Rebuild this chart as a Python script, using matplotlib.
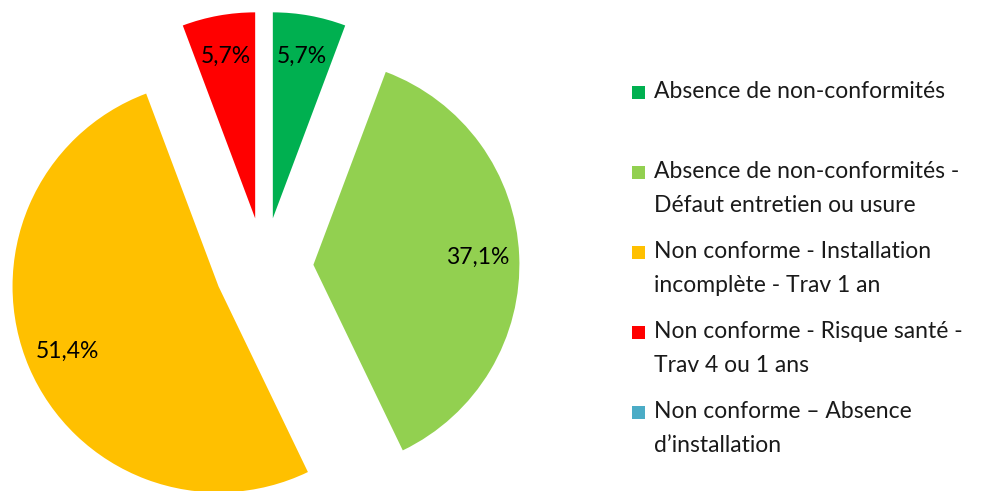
import matplotlib
matplotlib.use('Agg')
import matplotlib.pyplot as plt
from matplotlib.patches import Rectangle

# Data (counts, out of 35)
categories = [
    "Absence de non-conformités",
    "Absence de non-conformités -\nDéfaut entretien ou usure",
    "Non conforme - Installation\nincomplète - Trav 1 an",
    "Non conforme - Risque santé -\nTrav 4 ou 1 ans",
    "Non conforme – Absence\nd’installation",
]
counts = [2, 13, 18, 2, 0]
colors = ['#00B050', '#92D050', '#FFC000', '#FF0000', '#4BACC6']

plt.rcParams['font.family'] = ['Lato', 'DejaVu Sans']

W, H = 985, 491
fig = plt.figure(figsize=(W / 100, H / 100), dpi=100)
ax = fig.add_axes([0, 0, 1, 1])

def fmt_pct(p):
    if p <= 0:
        return ''
    return f"{p:.1f}%".replace('.', ',')

wedges, texts, autotexts = ax.pie(
    counts, colors=colors, startangle=90, counterclock=False,
    explode=[0.24] * len(counts), autopct=fmt_pct, pctdistance=0.8,
    wedgeprops=dict(linewidth=0), textprops=dict(fontsize=16.5, color='black'),
)

# map data units to pixels: radius 1 = 205 px, pie centre at (264, 267)
R = 206.0
cx, cy = 264.0, 267.0
ax.set_xlim(-cx / R, (W - cx) / R)
ax.set_ylim(-(H - cy) / R, cy / R)
ax.set_aspect('equal')
ax.axis('off')

# legend drawn by hand: square aligned with the first line
legend_y = [92, 172, 252, 332, 412]
line_gap = 33
for lab, col, y in zip(categories, colors, legend_y):
    fig.patches.append(Rectangle((632 / W, 1 - (y + 6.5) / H), 13 / W, 13 / H,
                                 transform=fig.transFigure, color=col, linewidth=0))
    for k, line in enumerate(lab.split('\n')):
        fig.text(654 / W, 1 - (y + k * line_gap) / H, line, fontsize=16.5,
                 va='center', ha='left', color='#1a1a1a')

fig.savefig('out.png', dpi=100)
